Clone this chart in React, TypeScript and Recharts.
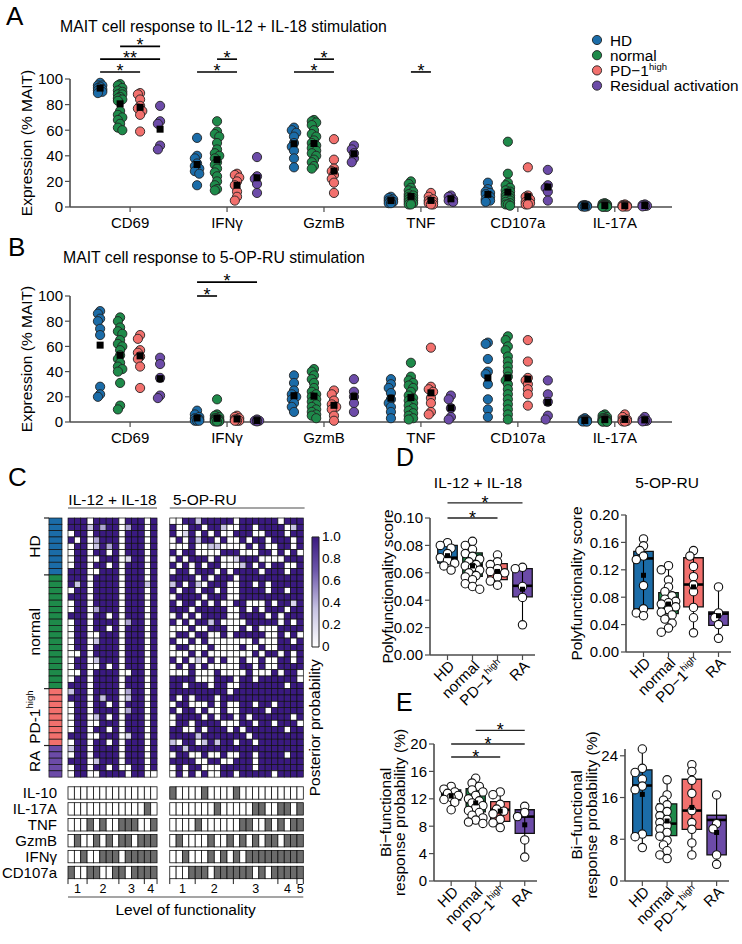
import React from 'react';
import { ScatterChart, Scatter, XAxis, YAxis, ReferenceLine, ReferenceArea } from 'recharts';

const FONT = '"Liberation Sans", Arial, Helvetica, sans-serif';
const AXIS_COLOR = '#4d4d4d';
const TICK_FS = 15;
const TITLE_FS = 15.5;

// ---------------- categories / groups ----------------
const MARKERS = ['CD69', 'IFNγ', 'GzmB', 'TNF', 'CD107a', 'IL-17A'];
const GROUP_NAMES = ['HD', 'normal', 'PD−1', 'Residual activation'];
const GROUP_SUPS = ['', '', 'high', ''];
const GROUP_TICKS = ['HD', 'normal', 'PD−1', 'RA'];
const GROUP_COLORS = ['#1b6ca8', '#1e8a4a', '#f2706d', '#6c4ba8'];

// ---------------- Panel A: IL-12 + IL-18 (per group: CD69, IFNγ, GzmB, TNF, CD107a, IL-17A) ----------------
const IL12_HD = [
  [97, 95, 95, 94, 93, 92, 91, 90, 89],
  [54, 40, 38, 34, 32, 30, 28, 26, 17],
  [62, 60, 58, 55, 50, 47, 44, 38, 31],
  [8, 7, 6, 5, 5, 4, 4, 3, 3],
  [19, 14, 12, 11, 10, 8, 6, 5, 4],
  [1.5, 1.2, 1, 1, 0.8, 0.6, 0.5, 0.4, 0.3],
];
const IL12_NORMAL = [
  [96, 95, 93, 91, 90, 88, 88, 86, 85, 84, 83, 75, 72, 70, 68, 65, 62, 60],
  [67, 59, 57, 55, 50, 45, 42, 40, 38, 35, 33, 30, 27, 24, 20, 17, 14, 13],
  [68, 67, 66, 64, 60, 57, 55, 52, 50, 48, 46, 44, 42, 40, 37, 35, 32, 30],
  [20, 18, 15, 13, 12, 10, 9, 8, 7, 7, 6, 5, 5, 4, 3, 3, 2, 2],
  [51, 26, 19, 17, 15, 13, 12, 10, 9, 8, 7, 6, 5, 4, 3, 2, 2, 1],
  [3, 2.5, 2, 2, 1.5, 1.5, 1, 1, 1, 1, 0.8, 0.6, 0.5, 0.5, 0.4, 0.3, 0.2, 0.2],
];
const IL12_PD1 = [
  [89, 88, 84, 79, 77, 75, 72, 59],
  [26, 25, 23, 20, 17, 12, 8, 5],
  [53, 37, 30, 28, 25, 22, 19, 11],
  [11, 8, 6, 5, 4, 3, 2, 2],
  [31, 9, 8, 6, 4, 3, 2, 2],
  [2, 1.5, 1, 1, 0.8, 0.5, 0.4, 0.3],
];
const IL12_RA = [
  [79, 67, 65, 48, 45],
  [39, 24, 22, 18, 11],
  [48, 45, 42, 38, 35],
  [9, 8, 6, 5, 4],
  [29, 17, 15, 12, 5],
  [2, 1.5, 1, 0.8, 0.5],
];
const SIG_A = [
  { c: 0, a: 0, b: 2, y: 105.5, t: '*' },
  { c: 0, a: 0, b: 3, y: 115.5, t: '**' },
  { c: 0, a: 1, b: 3, y: 125.5, t: '*' },
  { c: 1, a: 0, b: 2, y: 105.5, t: '*' },
  { c: 1, a: 1, b: 2, y: 115.5, t: '*' },
  { c: 2, a: 0, b: 2, y: 105.5, t: '*' },
  { c: 2, a: 1, b: 2, y: 115.5, t: '*' },
  { c: 3, a: 1, b: 2, y: 105.5, t: '*' },
];

// ---------------- Panel B: 5-OP-RU ----------------
const OPRU_HD = [
  [88, 86, 82, 80, 74, 69, 28, 22, 20],
  [9, 6, 4, 3, 2, 2, 1, 1, 1],
  [37, 31, 25, 22, 20, 18, 15, 12, 8],
  [34, 30, 27, 23, 18, 15, 12, 8, 3],
  [63, 62, 50, 40, 38, 30, 18, 10, 4],
  [3, 2, 1.5, 1, 1, 0.8, 0.5, 0.4, 0.3],
];
const OPRU_NORMAL = [
  [83, 80, 75, 72, 70, 65, 62, 60, 57, 53, 50, 47, 44, 42, 40, 31, 13, 10],
  [18, 6, 5, 4, 3, 3, 2, 2, 2, 1, 1, 1, 1, 1, 0.5, 0.5, 0.5, 0.5],
  [42, 40, 37, 34, 31, 27, 24, 22, 20, 18, 16, 14, 12, 10, 8, 6, 5, 3],
  [47, 36, 33, 31, 29, 27, 24, 21, 19, 17, 15, 13, 11, 9, 7, 5, 3, 2],
  [68, 65, 60, 57, 52, 48, 44, 40, 36, 33, 30, 26, 22, 18, 14, 10, 6, 2],
  [6, 5, 4, 3, 3, 2, 2, 2, 1.5, 1, 1, 1, 0.8, 0.6, 0.5, 0.4, 0.3, 0.2],
];
const OPRU_PD1 = [
  [69, 66, 57, 55, 52, 50, 44, 27],
  [5, 4, 3, 2, 2, 1, 1, 1],
  [25, 22, 17, 14, 12, 10, 5, 1],
  [59, 28, 26, 24, 19, 15, 8, 6],
  [65, 48, 35, 33, 30, 26, 22, 13],
  [6, 4, 2, 1.5, 1, 0.8, 0.5, 0.3],
];
const OPRU_RA = [
  [51, 46, 35, 21, 19],
  [2, 1, 1, 1, 0.5],
  [34, 24, 20, 15, 8],
  [21, 18, 11, 4, 2],
  [33, 22, 16, 5, 2],
  [4, 2, 1, 0.8, 0.5],
];
const SIG_B = [
  { c: 1, a: 0, b: 1, y: 100, t: '*' },
  { c: 1, a: 0, b: 3, y: 111, t: '*' },
];

// ---------------- Panel C: heatmap (digits 0-9 = posterior probability 0..1) ----------------
const GROUP_SIZES = [9, 18, 9, 5];
const HEAT_GROUP_LABELS = ['HD', 'normal', 'PD-1', 'RA'];
const HEAT_IL12 = [
  '9990999 9099909', '9993949 9049909', '0990999 9099909', '9090499 9099909', '0990394 9099909',
  '0990990 9099909', '0990099 9029909', '0990990 9099909', '9990099 9099909',
  '9990999 9099909', '9390999 9099939', '0990999 9099909', '9990999 9099909', '0990999 9099909',
  '0990499 9099909', '9990990 9099909', '0990999 9049909', '0990990 9099909', '0990099 9099909',
  '0990399 9099909', '0990999 9099909', '0090999 9099909', '0990399 9099909', '0990090 9099909',
  '0090999 9009909', '0990999 9099909', '9990999 9099909',
  '3990999 9049909', '9990939 9039909', '0990990 9099909', '0990999 9049909', '0990390 9099909',
  '0990099 9099909', '0990990 9099909', '9990099 9029909', '0990990 9099909',
  '3990999 9099909', '0990999 9099909', '9990399 9099909', '0990990 9009909', '0990099 9909900',
];
const HEAT_OPRU = [
  '0099399 9990999 9990999', '9009909 9300990 9999039', '9029090 9009990 0999099', '0909399 0900909 9099909',
  '0009003 3000090 9009909', '9099000 0999000 9909090', '0909990 9002999 0000999', '9090909 9000390 9099009',
  '0990999 0909999 0999099',
  '9999090 9990999 9999999', '3909309 9900990 9099999', '9099099 0900999 9099099', '0999909 9900999 9999999',
  '9099090 9009900 0909929', '9990999 9900909 0999099', '0909099 9900999 9090999', '9090993 9000099 9990909',
  '0009009 9900909 0009999', '0990990 0909999 9009090', '9009090 0000009 0009909', '0990009 0000900 9009999',
  '0009090 0000009 0990909', '9090309 0900900 9009909', '0909090 0000990 9009999', '0009000 9000090 0090990',
  '9999000 9990990 9999990', '9909990 9900999 9999099',
  '9999999 9909999 9999999', '9090999 0999999 9999999', '0990009 0900990 9909999', '9099090 0900999 9099999',
  '0999909 0990909 9999909', '0990999 9000990 9909990', '9900909 9909099 9999099', '9999399 9999909 9999999',
  '3099039 3990990 9999999',
  '9939999 9999999 9999999', '0990090 0900990 9999099', '9999009 9009990 9999999', '0909900 0999990 9999999',
  '0909090 0990999 9909999',
];
const BIN_LABELS = ['IL-10', 'IL-17A', 'TNF', 'GzmB', 'IFNγ', 'CD107a'];
const BIN_IL12 = [
  '0000000 0000000',
  '0000000 0000010',
  '0001010 0111001',
  '0100101 0110111',
  '0010011 1011111',
  '1001100 1101111',
];
const BIN_OPRU = [
  '1000010 0001000 0000000',
  '0000000 1000001 1001101',
  '0000100 0000110 0101011',
  '0100001 0010101 0110111',
  '0010001 0101011 1111111',
  '0001110 1111110 1011111',
];
const LEVELS_IL12 = [3, 5, 4, 2];
const LEVELS_OPRU = [4, 6, 7, 3, 1];
const CB_TICKS = [0, 0.2, 0.4, 0.6, 0.8, 1];

// ---------------- Panel D: polyfunctionality score ----------------
const POLY12_PTS = [
  [0.082, 0.08, 0.078, 0.074, 0.071, 0.069, 0.067, 0.065, 0.062],
  [0.083, 0.08, 0.077, 0.074, 0.072, 0.07, 0.068, 0.066, 0.065, 0.064, 0.062, 0.06, 0.058, 0.057, 0.055, 0.052, 0.05, 0.048],
  [0.073, 0.068, 0.066, 0.063, 0.061, 0.06, 0.057, 0.054, 0.051],
  [0.064, 0.063, 0.05, 0.042, 0.022],
];
const POLY12_LO = [0.062, 0.048, 0.051, 0.022];
const POLY12_Q1 = [0.067, 0.0575, 0.055, 0.0425];
const POLY12_MED = [0.071, 0.0655, 0.0614, 0.0505];
const POLY12_Q3 = [0.08, 0.0745, 0.0667, 0.063];
const POLY12_HI = [0.082, 0.083, 0.073, 0.064];
const POLY12_MEAN = [0.0725, 0.065, 0.061, 0.048];
const SIG_D = [
  { a: 0, b: 3, y: 0.111, t: '*' },
  { a: 0, b: 2, y: 0.1, t: '*' },
];

const POLYOP_PTS = [
  [0.165, 0.155, 0.148, 0.14, 0.135, 0.097, 0.063, 0.057, 0.053],
  [0.126, 0.12, 0.105, 0.095, 0.088, 0.082, 0.077, 0.074, 0.072, 0.07, 0.066, 0.062, 0.058, 0.054, 0.048, 0.042, 0.035, 0.029],
  [0.148, 0.14, 0.125, 0.11, 0.098, 0.088, 0.065, 0.05, 0.028],
  [0.095, 0.057, 0.05, 0.04, 0.02],
];
const POLYOP_LO = [0.051, 0.029, 0.028, 0.02];
const POLYOP_Q1 = [0.0634, 0.056, 0.066, 0.039];
const POLYOP_MED = [0.1366, 0.073, 0.0985, 0.056];
const POLYOP_Q3 = [0.147, 0.0868, 0.1376, 0.0585];
const POLYOP_HI = [0.166, 0.127, 0.149, 0.095];
const POLYOP_MEAN = [0.112, 0.07, 0.095, 0.053];

// ---------------- Panel E: bi-functional response probability ----------------
const BIF12_PTS = [
  [13.8, 13.4, 13.0, 12.8, 12.5, 12.2, 11.9, 11.5, 10.4],
  [15.0, 14.3, 13.8, 13.3, 13.0, 12.5, 12.0, 11.7, 11.4, 11.0, 10.7, 10.3, 10.0, 9.6, 9.2, 8.9, 8.6, 8.4],
  [13.0, 12.6, 11.2, 10.5, 10.2, 9.8, 9.0, 8.5, 7.8],
  [10.9, 10.0, 9.4, 6.0, 3.5],
];
const BIF12_LO = [10.4, 8.4, 7.8, 3.5];
const BIF12_Q1 = [11.8, 10.1, 8.7, 6.96];
const BIF12_MED = [12.55, 11.5, 10.4, 9.4];
const BIF12_Q3 = [13.3, 13.5, 11.6, 10.4];
const BIF12_HI = [14.0, 15.1, 13.2, 10.9];
const BIF12_MEAN = [12.4, 11.4, 10.2, 8.2];
const SIG_E = [
  { a: 0, b: 2, y: 18.1, t: '*' },
  { a: 0, b: 3, y: 20, t: '*' },
  { a: 1, b: 3, y: 22, t: '*' },
];

const BIFOP_PTS = [
  [25.3, 21.6, 20.8, 19.5, 18.2, 17.5, 9.0, 8.5, 6.4],
  [19.4, 16.5, 15.5, 14.6, 14.0, 13.3, 12.5, 11.8, 11.2, 10.6, 10.0, 9.3, 8.6, 7.8, 6.9, 5.8, 5.0, 4.3],
  [22.3, 21.0, 19.3, 16.8, 13.5, 11.2, 9.9, 7.3, 5.0],
  [16.5, 11.0, 10.0, 5.0, 3.2],
];
const BIFOP_LO = [6.4, 4.3, 5.0, 3.2];
const BIFOP_Q1 = [8.7, 8.7, 9.9, 5.0];
const BIFOP_MED = [18.3, 11.0, 13.5, 11.7];
const BIFOP_Q3 = [21.3, 14.8, 19.5, 12.6];
const BIFOP_HI = [25.4, 19.4, 22.4, 16.6];
const BIFOP_MEAN = [16.6, 11.5, 14.1, 9.3];

// ---------------- helpers ----------------
const avg = (a: number[]) => a.reduce((s, v) => s + v, 0) / a.length;
const PURPLE_STOPS: [number, number[]][] = [
  [0, [255, 255, 255]],
  [0.35, [198, 194, 226]],
  [0.7, [108, 86, 170]],
  [1, [58, 26, 128]],
];
function purple(v: number) {
  for (let i = 1; i < PURPLE_STOPS.length; i++) {
    const [t1, c1] = PURPLE_STOPS[i];
    const [t0, c0] = PURPLE_STOPS[i - 1];
    if (v <= t1) {
      const f = (v - t0) / (t1 - t0);
      const c = c0.map((x, k) => Math.round(x + (c1[k] - x) * f));
      return `rgb(${c[0]},${c[1]},${c[2]})`;
    }
  }
  return 'rgb(58,26,128)';
}

// simple beeswarm-style dodge (layout only): returns pixel x-offsets for values
function dodge(vals: number[], pxPerY: number, minDist: number, step: number, maxK: number) {
  const order = vals.map((v, i) => i).sort((a, b) => vals[b] - vals[a]);
  const placed: { y: number; dx: number }[] = [];
  const out = new Array(vals.length).fill(0);
  const cands = [0];
  for (let k = 1; k <= maxK; k++) cands.push(-k * step, k * step);
  order.forEach((i) => {
    const y = vals[i] * pxPerY;
    let best = 0, bestD = -1;
    for (const dx of cands) {
      let dmin = Infinity;
      placed.forEach((p) => {
        const d = Math.hypot(p.dx - dx, p.y - y);
        if (d < dmin) dmin = d;
      });
      if (dmin >= minDist) { best = dx; bestD = dmin; break; }
      if (dmin > bestD) { bestD = dmin; best = dx; }
    }
    placed.push({ y, dx: best });
    out[i] = best;
  });
  return out;
}

const StarLabel = (p: any) => {
  const vb = p.viewBox || { x: 0, y: 0, width: 0 };
  const x = vb.x + (vb.width || 0) / 2;
  return (
    <text x={x} y={vb.y + p.dy} textAnchor="middle" fontSize={p.size} fontFamily={FONT} fill="#000">
      {p.text}
    </text>
  );
};

const YTitle = (p: any) => {
  const vb = p.viewBox || { y: 0, height: 0 };
  const cy = vb.y + vb.height / 2;
  return (
    <g>
      {p.lines.map((line: string, i: number) => {
        const x = p.xs[i];
        return (
          <text key={i} x={x} y={cy} transform={`rotate(-90 ${x} ${cy})`} textAnchor="middle" dominantBaseline="central" fontSize={TITLE_FS} fontFamily={FONT} fill="#000">
            {line}
          </text>
        );
      })}
    </g>
  );
};

const GroupTick = (p: any) => {
  const i = Math.round(p.payload.value);
  return (
    <g transform={`translate(${p.x + 4},${p.y + 1})`}>
      <text transform="rotate(-45)" textAnchor="end" dominantBaseline="central" fontSize={TICK_FS} fontFamily={FONT} fill="#000">
        {GROUP_TICKS[i]}
        {GROUP_SUPS[i] ? <tspan fontSize={9.5} dy={-5}>{GROUP_SUPS[i]}</tspan> : null}
      </text>
    </g>
  );
};

const dotShape = (color: string) => (p: any) => (
  <circle cx={p.cx} cy={p.cy} r={4.6} fill={color} stroke="#222" strokeWidth={0.9} />
);
const squareShape = (s: number) => (p: any) => (
  <rect x={p.cx - s / 2} y={p.cy - s / 2} width={s} height={s} fill="#000" />
);
const whiteDot = (p: any) => <circle cx={p.cx} cy={p.cy} r={4.2} fill="#fff" stroke="#111" strokeWidth={1.1} />;

// ---------------- Panels A / B ----------------
const GROUP_STEP = 20 / 97;
function DotPanel({ top, marginTop, plotH, groups, sigs }: any) {
  const pxPerX = 602 / 6.21;
  const pxPerY = plotH / 100;
  const series = groups.map((byMarker: number[][], g: number) =>
    byMarker.flatMap((vals, c) => {
      const off = dodge(vals, pxPerY, 4.2, 2.2, 1);
      return vals.map((v, i) => ({ x: c + (g - 1.5) * GROUP_STEP + off[i] / pxPerX, y: v }));
    })
  );
  const means = groups.flatMap((byMarker: number[][], g: number) =>
    byMarker.map((vals, c) => ({ x: c + (g - 1.5) * GROUP_STEP, y: avg(vals) }))
  );
  const height = marginTop + plotH + 28;
  return (
    <div style={{ position: 'absolute', left: 0, top }}>
      <ScatterChart width={742} height={height} margin={{ top: marginTop, right: 70, bottom: 0, left: 0 }}>
        <XAxis
          type="number" dataKey="x" domain={[-0.62, 5.59]} ticks={[0, 1, 2, 3, 4, 5]} interval={0}
          tickFormatter={(i: number) => MARKERS[i]} height={28} tickSize={5} tickMargin={5}
          axisLine={{ stroke: AXIS_COLOR, strokeWidth: 1.6 }} tickLine={{ stroke: AXIS_COLOR, strokeWidth: 1.2 }}
          tick={{ fill: '#000', fontSize: TICK_FS, fontFamily: FONT }}
        />
        <YAxis
          type="number" dataKey="y" domain={[0, 100]} ticks={[0, 20, 40, 60, 80, 100]} width={70} tickSize={5}
          axisLine={{ stroke: AXIS_COLOR, strokeWidth: 1.6 }} tickLine={{ stroke: AXIS_COLOR, strokeWidth: 1.2 }}
          tick={{ fill: '#000', fontSize: TICK_FS, fontFamily: FONT }}
          label={<YTitle lines={['Expression (% MAIT)']} xs={[26]} />}
        />
        {sigs.map((s: any, i: number) => (
          <ReferenceLine
            key={'s' + i}
            segment={[{ x: s.c + (s.a - 1.5) * GROUP_STEP, y: s.y }, { x: s.c + (s.b - 1.5) * GROUP_STEP, y: s.y }]}
            stroke="#000" strokeWidth={1.6} ifOverflow="visible"
            label={<StarLabel text={s.t} size={18} dy={5} />}
          />
        ))}
        {series.map((d: any[], g: number) => (
          <Scatter key={g} data={d} shape={dotShape(GROUP_COLORS[g])} isAnimationActive={false} />
        ))}
        <Scatter data={means} shape={squareShape(7)} isAnimationActive={false} />
      </ScatterChart>
    </div>
  );
}

// ---------------- Panels D / E ----------------
const BOX_HALF = 0.39;
function BoxPanel(p: any) {
  const YW = 62, TOPM = 60, XH = 72, RIGHTM = 12;
  const width = YW + p.plotW + RIGHTM;
  const height = TOPM + p.plotH + XH;
  const pxPerX = p.plotW / 4.2;
  const pxPerY = p.plotH / (p.yDomain[1] - p.yDomain[0]);
  const points = p.pts.flatMap((vals: number[], g: number) => {
    const off = dodge(vals, pxPerY, 5.8, 3.6, 2);
    return vals.map((v, i) => ({ x: g + off[i] / pxPerX, y: v }));
  });
  const means = p.mean.map((v: number, g: number) => ({ x: g, y: v }));
  return (
    <div style={{ position: 'absolute', left: p.plotLeft - YW, top: p.plotTop - TOPM }}>
      <ScatterChart width={width} height={height} margin={{ top: TOPM, right: RIGHTM, bottom: 0, left: 0 }}>
        <XAxis
          type="number" dataKey="x" domain={[-0.7, 3.5]} ticks={[0, 1, 2, 3]} interval={0} height={XH}
          tick={<GroupTick />} tickSize={5}
          axisLine={{ stroke: AXIS_COLOR, strokeWidth: 1.6 }} tickLine={{ stroke: AXIS_COLOR, strokeWidth: 1.2 }}
        />
        <YAxis
          type="number" dataKey="y" domain={p.yDomain} ticks={p.yTicks} tickFormatter={p.fmt} width={YW} tickSize={5}
          axisLine={{ stroke: AXIS_COLOR, strokeWidth: 1.6 }} tickLine={{ stroke: AXIS_COLOR, strokeWidth: 1.2 }}
          tick={{ fill: '#000', fontSize: TICK_FS, fontFamily: FONT }}
          label={<YTitle lines={p.titleLines} xs={p.titleXs} />}
        />
        {p.lo.map((_: number, g: number) => (
          <ReferenceLine key={'w' + g} segment={[{ x: g, y: p.lo[g] }, { x: g, y: p.hi[g] }]} stroke="#000" strokeWidth={1.1} ifOverflow="visible" />
        ))}
        {p.q1.map((_: number, g: number) => (
          <ReferenceArea key={'b' + g} x1={g - BOX_HALF} x2={g + BOX_HALF} y1={p.q1[g]} y2={p.q3[g]}
            fill={GROUP_COLORS[g]} fillOpacity={1} stroke="#111" strokeWidth={1.3} ifOverflow="visible" />
        ))}
        {p.med.map((_: number, g: number) => (
          <ReferenceLine key={'m' + g} segment={[{ x: g - BOX_HALF, y: p.med[g] }, { x: g + BOX_HALF, y: p.med[g] }]} stroke="#000" strokeWidth={2.6} ifOverflow="visible" />
        ))}
        {(p.sigs || []).map((s: any, i: number) => (
          <ReferenceLine key={'s' + i} segment={[{ x: s.a, y: s.y }, { x: s.b, y: s.y }]} stroke="#222" strokeWidth={1.3} ifOverflow="visible"
            label={<StarLabel text={s.t} size={18} dy={6} />} />
        ))}
        <Scatter data={points} shape={whiteDot} isAnimationActive={false} />
        <Scatter data={means} shape={squareShape(5)} isAnimationActive={false} />
      </ScatterChart>
    </div>
  );
}

// ---------------- Panel C ----------------
const U = 6.36, V = 6.32; // px per column / row unit
const OPRU_U0 = 16;
const STRIP_U = -1.97;
const BIN_V0 = 43.51, BIN_DV = 2.516, BIN_H = 12.4;
const CB = { u1: 38.36, u2: 39.47, v1: 3.0, v2: 20.41 };

const heatShape = (p: any) => (
  <rect x={p.cx - U / 2} y={p.cy - V / 2} width={U} height={V} fill={purple(p.payload.v)} stroke="#111" strokeWidth={0.7} />
);
const stripShape = (p: any) => (
  <rect x={p.cx - 6.5} y={p.cy - V / 2} width={13} height={V} fill={GROUP_COLORS[p.payload.g]} stroke="#111" strokeWidth={0.7} />
);
const binShape = (p: any) => (
  <rect x={p.cx - U / 2} y={p.cy - BIN_H / 2} width={U} height={BIN_H} fill={p.payload.on ? '#6b6b6b' : '#fff'} stroke="#111" strokeWidth={0.8} />
);
const textShape = (p: any) => {
  const d = p.payload;
  const fs = d.size || 15;
  return (
    <text
      x={p.cx} y={p.cy} textAnchor={d.anchor || 'middle'} dominantBaseline="central"
      transform={d.angle ? `rotate(${d.angle} ${p.cx} ${p.cy})` : undefined}
      fontSize={fs} fontFamily={FONT} fill="#000"
    >
      {d.text}
      {d.sup ? <tspan fontSize={fs * 0.62} dy={-fs * 0.4}>{d.sup}</tspan> : null}
    </text>
  );
};

function levelMarks(levels: number[], u0: number) {
  const bounds = [u0];
  const centers: { x: number; n: number }[] = [];
  levels.forEach((n, i) => {
    const start = bounds[bounds.length - 1];
    centers.push({ x: start + n / 2, n: i + 1 });
    bounds.push(start + n);
  });
  return { bounds, centers };
}

function HeatPanel() {
  const heat: any[] = [];
  HEAT_IL12.forEach((row, r) =>
    row.replace(/ /g, '').split('').forEach((d, c) => heat.push({ x: c + 0.5, y: r + 0.5, v: +d / 9 }))
  );
  HEAT_OPRU.forEach((row, r) =>
    row.replace(/ /g, '').split('').forEach((d, c) => heat.push({ x: OPRU_U0 + c + 0.5, y: r + 0.5, v: +d / 9 }))
  );
  const strip: any[] = [];
  const groupStarts: number[] = [];
  let r0 = 0;
  GROUP_SIZES.forEach((n, g) => {
    groupStarts.push(r0);
    for (let i = 0; i < n; i++) strip.push({ x: STRIP_U, y: r0 + i + 0.5, g });
    r0 += n;
  });
  const bins: any[] = [];
  BIN_IL12.forEach((row, k) =>
    row.replace(/ /g, '').split('').forEach((d, c) => bins.push({ x: c + 0.5, y: BIN_V0 + k * BIN_DV, on: d === '1' }))
  );
  BIN_OPRU.forEach((row, k) =>
    row.replace(/ /g, '').split('').forEach((d, c) => bins.push({ x: OPRU_U0 + c + 0.5, y: BIN_V0 + k * BIN_DV, on: d === '1' }))
  );
  const lv1 = levelMarks(LEVELS_IL12, 0);
  const lv2 = levelMarks(LEVELS_OPRU, OPRU_U0);
  const binBottom = BIN_V0 + 5 * BIN_DV + BIN_H / V / 2;

  const texts: any[] = [];
  texts.push({ x: 7, y: -2.9, text: 'IL-12 + IL-18', size: 15.5 });
  texts.push({ x: 16.5, y: -2.9, text: '5-OP-RU', anchor: 'start', size: 15.5 });
  GROUP_SIZES.forEach((n, g) =>
    texts.push({ x: -5.19, y: groupStarts[g] + n / 2, text: HEAT_GROUP_LABELS[g], sup: GROUP_SUPS[g], angle: -90, size: 15.5 })
  );
  BIN_LABELS.forEach((t, k) => texts.push({ x: -1.73, y: BIN_V0 + k * BIN_DV, text: t, anchor: 'end', size: 15 }));
  [...lv1.centers, ...lv2.centers].forEach((c) => texts.push({ x: c.x, y: 58.7, text: String(c.n), size: 12.5 }));
  texts.push({ x: 18.5, y: 62.0, text: 'Level of functionality', size: 15.5 });
  CB_TICKS.forEach((t) =>
    texts.push({ x: 39.94, y: CB.v2 - t * (CB.v2 - CB.v1), text: t === 0 ? '0' : t.toFixed(1), anchor: 'start', size: 13.5 })
  );
  texts.push({ x: 38.8, y: 33.2, text: 'Posterior probability', angle: -90, size: 15.5 });

  const lineProps = { stroke: '#4d4d4d', strokeWidth: 1.2, ifOverflow: 'visible' as const };
  return (
    <div style={{ position: 'absolute', left: 0, top: 470 }}>
      <ScatterChart width={380} height={474} margin={{ top: 10.08, right: 44.88, bottom: 27.84, left: 4.4 }}>
        <XAxis type="number" dataKey="x" domain={[-10, 42]} hide />
        <YAxis type="number" dataKey="y" domain={[-6, 63]} reversed hide />
        <ReferenceLine segment={[{ x: 0, y: -1.58 }, { x: 14, y: -1.58 }]} {...lineProps} />
        <ReferenceLine segment={[{ x: 16, y: -1.58 }, { x: 37.2, y: -1.58 }]} {...lineProps} />
        {groupStarts.map((b, i) => (
          <ReferenceLine key={'gb' + i} segment={[{ x: -3.77, y: b }, { x: -2.99, y: b }]} stroke="#222" strokeWidth={1.2} ifOverflow="visible" />
        ))}
        {[...lv1.bounds, ...lv2.bounds].map((b, i) => (
          <ReferenceLine key={'lb' + i} segment={[{ x: b, y: binBottom }, { x: b, y: binBottom + 0.85 }]} stroke="#222" strokeWidth={1} ifOverflow="visible" />
        ))}
        <ReferenceLine segment={[{ x: 0, y: 59.97 }, { x: 37, y: 59.97 }]} {...lineProps} />
        <ReferenceArea x1={CB.u1} x2={CB.u2} y1={CB.v1} y2={CB.v2} fill="url(#cbgrad)" fillOpacity={1} stroke="#222" strokeWidth={1} ifOverflow="visible" />
        <Scatter data={heat} shape={heatShape} isAnimationActive={false} />
        <Scatter data={strip} shape={stripShape} isAnimationActive={false} />
        <Scatter data={bins} shape={binShape} isAnimationActive={false} />
        <Scatter data={texts} shape={textShape} isAnimationActive={false} />
      </ScatterChart>
    </div>
  );
}

// ---------------- overlay texts (panel letters, titles, legend) ----------------
function Overlay() {
  const t = (x: number, y: number, s: string, size = 15.8, anchor: any = 'start') => (
    <text x={x} y={y} fontSize={size} fontFamily={FONT} textAnchor={anchor} fill="#000">{s}</text>
  );
  return (
    <svg width={742} height={944} style={{ position: 'absolute', left: 0, top: 0, pointerEvents: 'none' }}>
      {t(6, 25, 'A', 26)}
      {t(60, 32, 'MAIT cell response to IL-12 + IL-18 stimulation')}
      {GROUP_NAMES.map((n, g) => (
        <g key={g}>
          <circle cx={597} cy={40 + g * 15.2} r={4.6} fill={GROUP_COLORS[g]} stroke="#222" strokeWidth={0.9} />
          <text x={610} y={45.5 + g * 15.2} fontSize={15.3} fontFamily={FONT} fill="#000">{n}</text>
          {GROUP_SUPS[g] ? (
            <text x={649} y={40 + g * 15.2} fontSize={9.5} fontFamily={FONT} fill="#000">{GROUP_SUPS[g]}</text>
          ) : null}
        </g>
      ))}
      {t(8, 256, 'B', 26)}
      {t(63, 263, 'MAIT cell response to 5-OP-RU stimulation')}
      {t(8, 486, 'C', 26)}
      {t(396, 466, 'D', 25)}
      {t(478, 488, 'IL-12 + IL-18', 15.5, 'middle')}
      {t(667, 488, '5-OP-RU', 15.5, 'middle')}
      {t(396, 711, 'E', 25)}
    </svg>
  );
}

export default function App() {
  return (
    <div style={{ position: 'absolute', left: 0, top: 0, width: 742, height: 944, background: '#fff', fontFamily: FONT }}>
      <svg width={0} height={0} style={{ position: 'absolute' }}>
        <defs>
          <linearGradient id="cbgrad" x1="0" y1="1" x2="0" y2="0">
            {PURPLE_STOPS.map(([o, c]) => (
              <stop key={o} offset={o} stopColor={`rgb(${c[0]},${c[1]},${c[2]})`} />
            ))}
          </linearGradient>
        </defs>
      </svg>
      <DotPanel top={0} marginTop={79} plotH={128} groups={[IL12_HD, IL12_NORMAL, IL12_PD1, IL12_RA]} sigs={SIG_A} />
      <DotPanel top={230} marginTop={66} plotH={126} groups={[OPRU_HD, OPRU_NORMAL, OPRU_PD1, OPRU_RA]} sigs={SIG_B} />
      <HeatPanel />
      <BoxPanel plotLeft={430} plotTop={518} plotW={105} plotH={137} yDomain={[0, 0.1]} yTicks={[0, 0.02, 0.04, 0.06, 0.08, 0.1]}
        fmt={(v: number) => v.toFixed(2)} pts={POLY12_PTS} lo={POLY12_LO} q1={POLY12_Q1} med={POLY12_MED} q3={POLY12_Q3} hi={POLY12_HI}
        mean={POLY12_MEAN} sigs={SIG_D} titleLines={['Polyfunctionality score']} titleXs={[19]} />
      <BoxPanel plotLeft={626} plotTop={515} plotW={105} plotH={137} yDomain={[0, 0.2]} yTicks={[0, 0.04, 0.08, 0.12, 0.16, 0.2]}
        fmt={(v: number) => v.toFixed(2)} pts={POLYOP_PTS} lo={POLYOP_LO} q1={POLYOP_Q1} med={POLYOP_MED} q3={POLYOP_Q3} hi={POLYOP_HI}
        mean={POLYOP_MEAN} titleLines={['Polyfunctionality score']} titleXs={[12]} />
      <BoxPanel plotLeft={434} plotTop={744} plotW={103} plotH={137} yDomain={[0, 20]} yTicks={[0, 4, 8, 12, 16, 20]}
        fmt={(v: number) => String(v)} pts={BIF12_PTS} lo={BIF12_LO} q1={BIF12_Q1} med={BIF12_MED} q3={BIF12_Q3} hi={BIF12_HI}
        mean={BIF12_MEAN} sigs={SIG_E} titleLines={['Bi−functional', 'response probability (%)']} titleXs={[13, 27]} />
      <BoxPanel plotLeft={625} plotTop={749} plotW={104} plotH={132} yDomain={[0, 24]} yTicks={[0, 4, 8, 12, 16, 20, 24]}
        fmt={(v: number) => String(v)} pts={BIFOP_PTS} lo={BIFOP_LO} q1={BIFOP_Q1} med={BIFOP_MED} q3={BIFOP_Q3} hi={BIFOP_HI}
        mean={BIFOP_MEAN} titleLines={['Bi−functional', 'response probability (%)']} titleXs={[13, 28]} />
      <Overlay />
    </div>
  );
}
